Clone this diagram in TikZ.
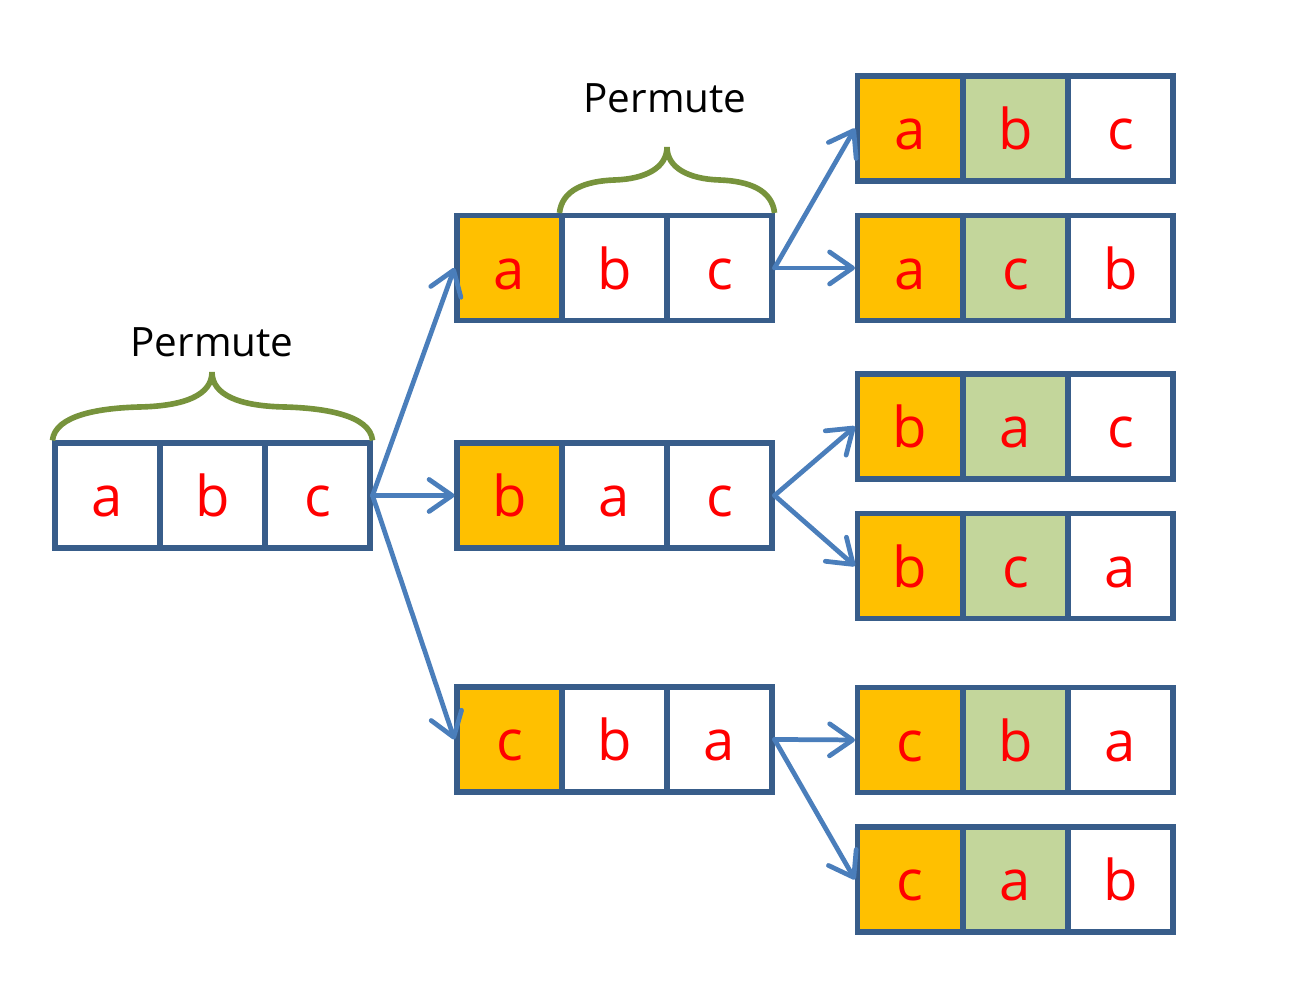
\documentclass[tikz,border=0pt]{standalone}
\usepackage{fontspec}
\setmainfont{Open Sans}
\usepackage{tikz}
\usetikzlibrary{arrows.meta}
\definecolor{cellline}{HTML}{385D8A}
\definecolor{branchblue}{HTML}{4A7EBB}
\definecolor{fixedorange}{HTML}{FFC000}
\definecolor{fixedgreen}{HTML}{C3D69B}
\definecolor{bracegreen}{HTML}{77933C}
\tikzset{
  cell/.style={draw=cellline, line width=1.45pt, fill=white, minimum size=1.05cm,
    inner sep=0pt, text=red, font=\fontsize{16}{18}\selectfont,
    text height=0.5cm, text depth=0.07cm},
  first/.style={fill=fixedorange},
  second/.style={fill=fixedgreen},
  branch/.style={draw=branchblue, line width=1.35pt, line cap=round,
    -{Straight Barb[length=2.3mm, width=3.2mm, round]}},
  permbrace/.style={draw=bracegreen, line width=1.6pt},
  label/.style={anchor=base, font=\fontsize{11.5}{14}\selectfont}
}

\begin{document}
\begin{tikzpicture}
 \useasboundingbox (0,0) rectangle (13.07,10);
 % start row
 \node [cell] (s1) at (1.075,5.045) {a};
 \node [cell] (s2) at (2.125,5.045) {b};
 \node [cell] (s3) at (3.175,5.045) {c};
 % first element fixed
 \foreach \n/\y/\p/\q/\r in {m1/7.32/a/b/c, m2/5.045/b/a/c, m3/2.605/c/b/a} {
   \node [cell, first] (\n1) at (5.095,\y) {\p};
   \node [cell] (\n2) at (6.145,\y) {\q};
   \node [cell] (\n3) at (7.195,\y) {\r};
 }
 % first two elements fixed
 \foreach \n/\y/\p/\q/\r in {l1/8.715/a/b/c, l2/7.32/a/c/b, l3/5.735/b/a/c,
                             l4/4.34/b/c/a, l5/2.60/c/b/a, l6/1.205/c/a/b} {
   \node [cell, first] (\n1) at (9.10,\y) {\p};
   \node [cell, second] (\n2) at (10.155,\y) {\q};
   \node [cell] (\n3) at (11.205,\y) {\r};
 }
 % braces
 \draw [permbrace] (s1.north west) .. controls (0.55,5.85) and (1.00,5.92) .. (1.40,5.93)
       .. controls (1.85,5.94) and (2.12,6.05) .. (2.12,6.28)
       .. controls (2.12,6.05) and (2.39,5.94) .. (2.84,5.93)
       .. controls (3.24,5.92) and (3.70,5.85) .. (s3.north east);
 \node [label] (perm1) at (2.12,6.43) {Permute};
 \draw [permbrace] (m12.north west) .. controls (5.62,8.10) and (5.85,8.19) .. (6.15,8.20)
       .. controls (6.45,8.21) and (6.67,8.32) .. (6.67,8.53)
       .. controls (6.67,8.32) and (6.89,8.21) .. (7.19,8.20)
       .. controls (7.49,8.19) and (7.72,8.10) .. (m13.north east);
 \node [label] (perm2) at (6.65,8.87) {Permute};
 % branches
 \draw [branch] (s3.east) -- (m11.west);
 \draw [branch] (s3.east) -- (m21.west);
 \draw [branch] (s3.east) -- (m31.west);
 \draw [branch] (m13.east) -- (l11.west);
 \draw [branch] (m13.east) -- (l21.west);
 \draw [branch] (m23.east) -- (l31.west);
 \draw [branch] (m23.east) -- (l41.west);
 \draw [branch] (m33.east) -- (l51.west);
 \draw [branch] (m33.east) -- (l61.west);
\end{tikzpicture}
\end{document}
